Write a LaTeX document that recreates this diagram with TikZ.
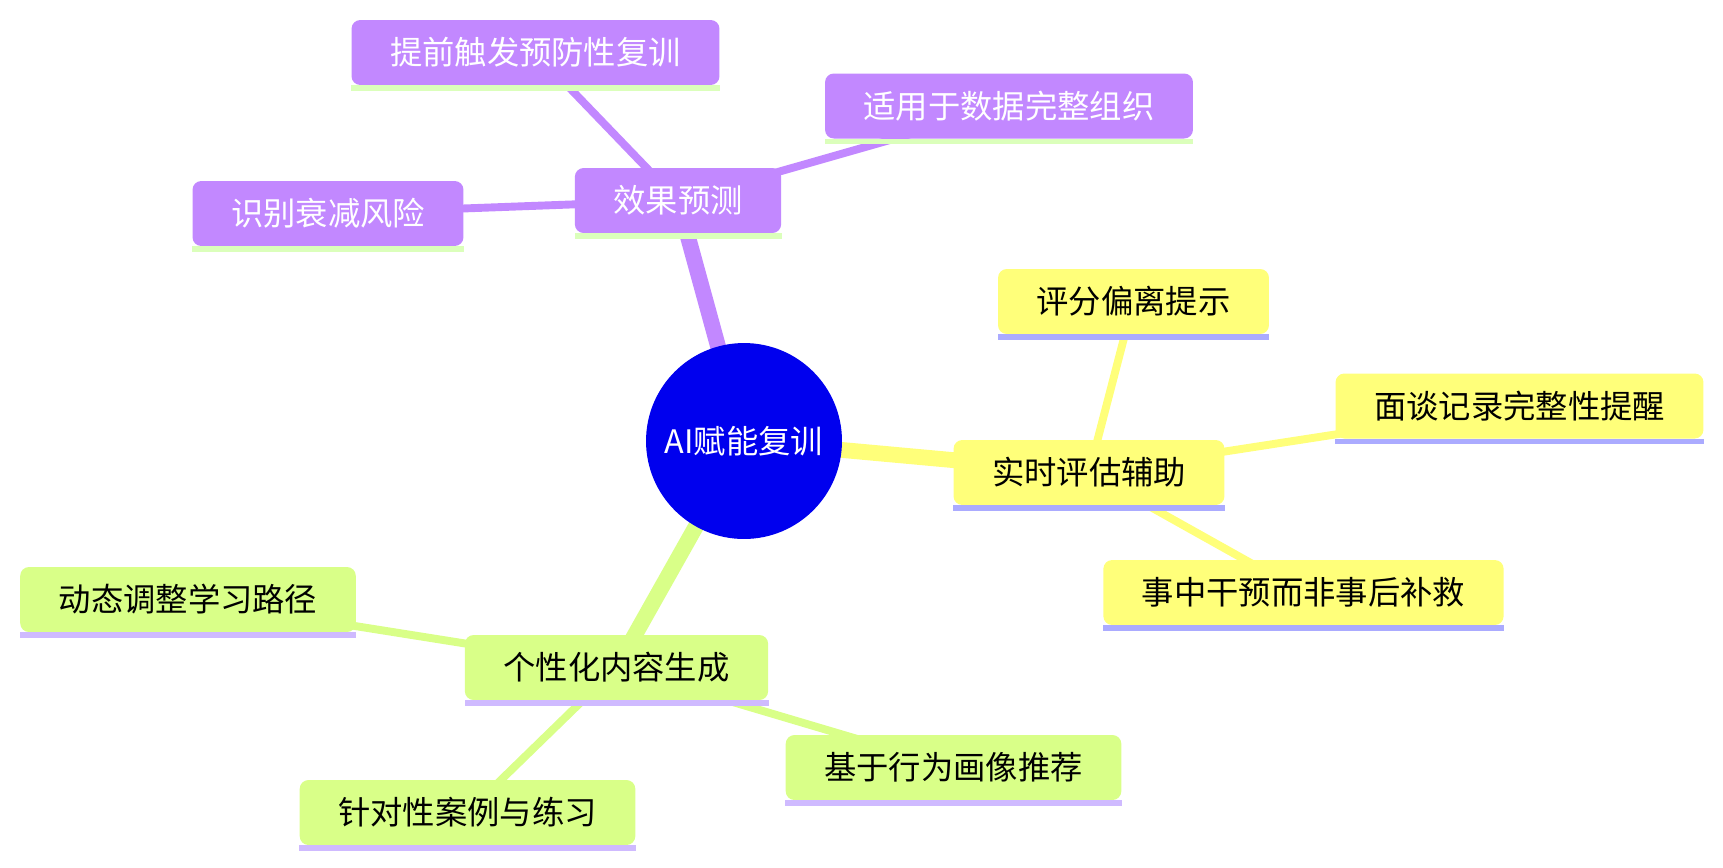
\documentclass[tikz,border=0pt]{standalone}
\usepackage{fontspec}
\setmainfont{Noto Sans CJK SC}
\usetikzlibrary{backgrounds}

\definecolor{purpfill}{HTML}{C288FF}
\definecolor{purpline}{HTML}{DBFFBB}
\definecolor{yelfill}{HTML}{FFFF7A}
\definecolor{yelline}{HTML}{ABABFF}
\definecolor{grnfill}{HTML}{D9FF88}
\definecolor{grnline}{HTML}{CFBAFF}
\definecolor{rootblue}{HTML}{0000EE}

\tikzset{
  topic/.style={rounded corners=5pt, inner xsep=0.77cm, inner ysep=0pt,
    minimum height=1.3cm, font=\fontsize{18.4}{22}\selectfont},
  purpbox/.style={topic, fill=purpfill, text=white},
  yelbox/.style={topic, fill=yelfill, text=black},
  grnbox/.style={topic, fill=grnfill, text=black},
  trunk/.style={line width=9pt},
  twig/.style={line width=4.5pt}
}
% strip under a box
\newcommand{\understrip}[2]{\fill[#2] (#1.south west) rectangle ([yshift=-0.11cm]#1.south east);}

\begin{document}
\begin{tikzpicture}[x=0.02cm, y=-0.02cm]
  \useasboundingbox (0,0) rectangle (1723,867);
  \node[circle, fill=rootblue, text=white, minimum size=3.92cm, inner sep=0pt,
    font=\fontsize{18.4}{22}\selectfont] (root) at (744,441) {AI赋能复训};

  % effect prediction
  \node[purpbox] (effect) at (678,200.5) {效果预测};
  \node[purpbox] (early) at (535.5,52.5) {提前触发预防性复训};
  \node[purpbox] (suits) at (1009,106) {适用于数据完整组织};
  \node[purpbox] (decay) at (328,213.5) {识别衰减风险};

  % realtime assessment
  \node[yelbox] (assist) at (1089,472.5) {实时评估辅助};
  \node[yelbox] (score) at (1133.5,301.5) {评分偏离提示};
  \node[yelbox] (record) at (1519.5,406) {面谈记录完整性提醒};
  \node[yelbox] (during) at (1303.5,592.5) {事中干预而非事后补救};

  % personalised content
  \node[grnbox] (content) at (616.5,667.5) {个性化内容生成};
  \node[grnbox] (path) at (188,599.5) {动态调整学习路径};
  \node[grnbox] (cases) at (467.5,812.5) {针对性案例与练习};
  \node[grnbox] (persona) at (953.5,767.5) {基于行为画像推荐};

  \understrip{effect}{purpline}
  \understrip{early}{purpline}
  \understrip{suits}{purpline}
  \understrip{decay}{purpline}
  \understrip{assist}{yelline}
  \understrip{score}{yelline}
  \understrip{record}{yelline}
  \understrip{during}{yelline}
  \understrip{content}{grnline}
  \understrip{path}{grnline}
  \understrip{cases}{grnline}
  \understrip{persona}{grnline}

  \begin{pgfonlayer}{background}
    \draw[trunk, purpfill] (root.center) -- (effect.center);
    \draw[trunk, yelfill] (root.center) -- (assist.center);
    \draw[trunk, grnfill] (root.center) -- (content.center);
    \draw[twig, purpfill] (effect.center) -- (early.center);
    \draw[twig, purpfill] (effect.center) -- (suits.center);
    \draw[twig, purpfill] (effect.center) -- (decay.center);
    \draw[twig, yelfill] (assist.center) -- (score.center);
    \draw[twig, yelfill] (assist.center) -- (record.center);
    \draw[twig, yelfill] (assist.center) -- (during.center);
    \draw[twig, grnfill] (content.center) -- (path.center);
    \draw[twig, grnfill] (content.center) -- (cases.center);
    \draw[twig, grnfill] (content.center) -- (persona.center);
  \end{pgfonlayer}
\end{tikzpicture}
\end{document}
